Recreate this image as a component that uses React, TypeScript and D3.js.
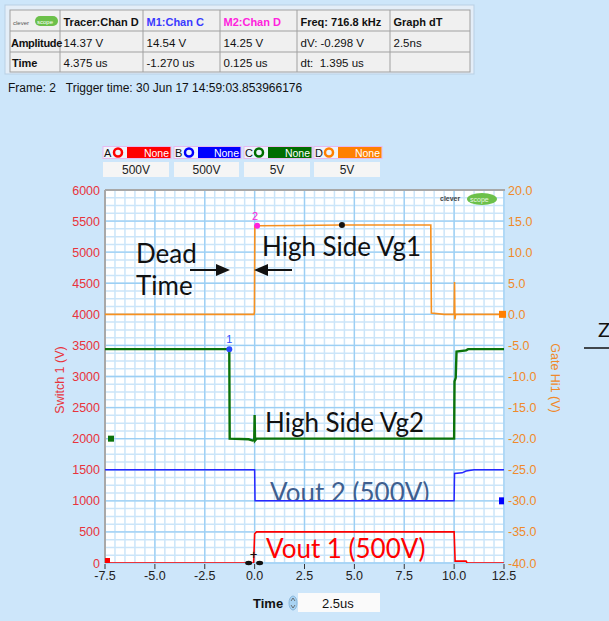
import React from "react";
import * as d3 from "d3";

// ---------- data ----------
const xTicks = [-7.5, -5.0, -2.5, 0.0, 2.5, 5.0, 7.5, 10.0, 12.5];
const leftTicks = [0, 500, 1000, 1500, 2000, 2500, 3000, 3500, 4000, 4500, 5000, 5500, 6000];
const rightTicks = [-40, -35, -30, -25, -20, -15, -10, -5, 0, 5, 10, 15, 20];

// Channel D (orange, right axis, V) : [time us, volts]
const chanD: [number, number][] = [
  [-7.5, 0], [-0.03, 0], [-0.01, 0.4], [0.01, 14.2], [0.125, 14.25], [2.0, 14.3], [4.375, 14.37],
  [8.83, 14.37], [8.86, 0.2], [9.5, 0], [10.0, 0], [10.02, 5.2], [10.04, -0.8], [10.07, 0], [12.5, 0],
];
// Channel C (green, right axis, V)
const chanC: [number, number][] = [
  [-7.5, -5.6], [-1.27, -5.6], [-1.25, -20.0], [-0.3, -20.1], [-0.1, -20.3], [-0.02, -20.2],
  [0.0, -16.2], [0.02, -20.3], [0.1, -20.0], [10.0, -20.0], [10.02, -10.8], [10.08, -10.2],
  [10.12, -6.0], [10.6, -5.8], [10.7, -5.6], [12.5, -5.6],
];
// Channel B (blue, left axis, V)
const chanB: [number, number][] = [
  [-7.5, 1500], [0.0, 1500], [0.02, 1000], [10.0, 1000], [10.02, 1440], [10.4, 1450],
  [10.6, 1480], [11.0, 1500], [12.5, 1500],
];
// Channel A (red, left axis, V)
const chanA: [number, number][] = [
  [-7.5, 0], [-0.05, 0], [0.0, 470], [0.1, 500], [10.0, 500], [10.05, 30], [10.6, 30], [10.65, 0], [12.5, 0],
];

const tableHeader = ["Tracer:Chan D", "M1:Chan C", "M2:Chan D", "Freq: 716.8 kHz", "Graph dT"];
const tableAmplitude = ["14.37 V", "14.54 V", "14.25 V", "dV: -0.298 V", "2.5ns"];
const tableTime = ["4.375 us", "-1.270 us", "0.125 us", "dt:  1.395 us", ""];
const legendNames = ["A", "B", "C", "D"];
const legendScales = ["500V", "500V", "5V", "5V"];

// ---------- layout ----------
const W = 609, H = 621;
const PL = 105, PR = 504, PT = 190, PB = 563;
const FONT = "'Liberation Sans', Arial, sans-serif";
const ANN = "Lato, 'Open Sans', sans-serif";

const x = d3.scaleLinear().domain([-7.5, 12.5]).range([PL, PR]);
const yL = d3.scaleLinear().domain([0, 6000]).range([PB, PT]);
const yR = d3.scaleLinear().domain([-40, 20]).range([PB, PT]);

const lineR = d3.line<[number, number]>().x(d => x(d[0])).y(d => yR(d[1]));
const lineL = d3.line<[number, number]>().x(d => x(d[0])).y(d => yL(d[1]));

const colX = [10, 60, 143, 220, 297, 390, 470];
const rowY = [10, 31, 52, 72];

const legendColors = ["#ff0000", "#0000ff", "#006e00", "#ff8000"];

export default function App() {
  const minorV = d3.range(-7.5, 12.5001, 0.5);
  const majorV = d3.range(-7.5, 12.5001, 2.5);
  const minorH = d3.range(0, 6000.1, 125);
  const majorH = d3.range(0, 6000.1, 500);

  return (
    <svg width={W} height={H} style={{ position: "absolute", left: 0, top: 0, background: "#cde6fa" }}
      fontFamily={FONT}>
      <rect x={0} y={0} width={W} height={H} fill="#cde6fa" />
      <defs>
        <clipPath id="plotclip"><rect x={PL} y={PT} width={PR - PL} height={PB - PT} /></clipPath>
      </defs>

      {/* ---------- top table ---------- */}
      <rect x={5} y={5} width={469} height={69} fill="#e4eef8" stroke="#b9cfe4" />
      <rect x={10} y={10} width={460} height={62} fill="#f0f0f0" stroke="#a0a0a0" />
      {rowY.slice(1, 3).map(yy => <line key={yy} x1={10} x2={470} y1={yy} y2={yy} stroke="#a0a0a0" />)}
      {colX.slice(1, 6).map(xx => <line key={xx} x1={xx} x2={xx} y1={10} y2={72} stroke="#a0a0a0" />)}
      {/* logo */}
      <text x={13} y={24.5} fontSize={6} fill="#555">clever</text>
      <rect x={35} y={16} width={23} height={10} rx={5} fill="#6cc04a" />
      <text x={37} y={24} fontSize={6} fill="#fff">scope</text>
      {tableHeader.map((t, i) => (
        <text key={t} x={colX[i + 1] + 3.5} y={25.5} fontSize={11} fontWeight="bold"
          fill={i === 1 ? "#3a3aff" : i === 2 ? "#ff22dd" : "#111"}>{t}</text>
      ))}
      <text x={11} y={46.5} fontSize={11} fontWeight="bold" fill="#111" letterSpacing={-0.3}>Amplitude</text>
      {tableAmplitude.map((t, i) => <text key={i} x={colX[i + 1] + 3.5} y={46.5} fontSize={11.5} fill="#111">{t}</text>)}
      <text x={12} y={67} fontSize={11} fontWeight="bold" fill="#111">Time</text>
      {tableTime.map((t, i) => <text key={i} x={colX[i + 1] + 3.5} y={67} fontSize={11.5} fill="#111" style={{ whiteSpace: "pre" }}>{t}</text>)}

      <text x={8} y={92} fontSize={12} fill="#111" style={{ whiteSpace: "pre" }}>Frame: 2   Trigger time: 30 Jun 17 14:59:03.853966176</text>

      {/* ---------- legend ---------- */}
      {legendNames.map((n, i) => {
        const lx = [103, 174, 244, 314][i];
        const bw = [68, 67, 68, 68][i];
        const c = legendColors[i];
        return (
          <g key={n}>
            <rect x={lx} y={146.5} width={bw} height={12} fill="#eef4fb" stroke="#e8b8f0" />
            <text x={lx + 1} y={157} fontSize={11} fill="#111">{n}</text>
            <circle cx={lx + 15} cy={152.5} r={4} fill="none" stroke={c} strokeWidth={2.5} />
            <rect x={lx + 24} y={147} width={bw - 24.5} height={11} fill={c} />
            <text x={lx + bw - 2} y={156.5} fontSize={10.5} fill="#fff" textAnchor="end">None</text>
            <rect x={lx} y={162} width={bw - 2} height={15} fill="#f5f5f5" />
            <text x={lx + (bw - 2) / 2} y={174} fontSize={12} fill="#222" textAnchor="middle">{legendScales[i]}</text>
          </g>
        );
      })}

      {/* ---------- plot area ---------- */}
      <rect x={PL} y={PT} width={PR - PL + 1} height={PB - PT} fill="#ffffff" />
      {minorH.map(v => <line key={"mh" + v} x1={PL} x2={PR} y1={yL(v)} y2={yL(v)} stroke="#cbe5f9" strokeWidth={1.5} />)}
      {minorV.map(v => <line key={"mv" + v} x1={x(v)} x2={x(v)} y1={PT} y2={PB} stroke="#cbe5f9" strokeWidth={1.5} />)}
      {majorH.map(v => <line key={"Mh" + v} x1={PL} x2={PR} y1={yL(v)} y2={yL(v)} stroke="#9ccff4" strokeWidth={1.3} />)}
      {majorV.map(v => <line key={"Mv" + v} x1={x(v)} x2={x(v)} y1={PT} y2={PB} stroke="#9ccff4" strokeWidth={1.3} />)}
      <line x1={PL} x2={PR + 1} y1={PT} y2={PT} stroke="#a8a8a8" strokeWidth={2} />
      <line x1={PL} x2={PL} y1={PT} y2={PB} stroke="#a8a8a8" strokeWidth={2} />

      {/* logo in plot */}
      <text x={440} y={201} fontSize={7} fill="#444" fontWeight="bold">clever</text>
      <ellipse cx={482} cy={199} rx={15} ry={6} fill="#6cc04a" />
      <text x={470} y={201.5} fontSize={7} fill="#e9f6e2">scope</text>

      {/* traces */}
      <g clipPath="url(#plotclip)" fill="none" strokeLinejoin="miter">
        <path d={lineR(chanD) || ""} stroke="#f7901e" strokeWidth={1.6} />
        <path d={lineR(chanC) || ""} stroke="#0b730b" strokeWidth={2.4} />
        <path d={lineL(chanB) || ""} stroke="#2727ff" strokeWidth={1.5} />
        <path d={lineL(chanA) || ""} stroke="#ff0000" strokeWidth={1.6} />
      </g>

      {/* channel end markers */}
      <rect x={x(12.5) - 5} y={yR(0) - 3.5} width={7} height={7} fill="#ff8000" />
      <rect x={x(-7.2) - 3} y={yR(-20) - 3} width={6} height={6} fill="#0b730b" />
      <rect x={x(12.5) - 5} y={yL(1000) - 3.5} width={5} height={7} fill="#0000ff" />
      <rect x={x(-7.5)} y={yL(0) - 5} width={5} height={5} fill="#ff0000" />

      {/* cursors */}
      <circle cx={x(4.375)} cy={yR(14.37)} r={3} fill="#111" />
      <circle cx={x(0.125)} cy={yR(14.25)} r={3} fill="#ff22dd" />
      <text x={x(0.125) - 2} y={yR(14.25) - 6} fontSize={11} fill="#ff22dd" textAnchor="middle">2</text>
      <circle cx={x(-1.27)} cy={yR(-5.6)} r={3} fill="#2a4aff" />
      <text x={x(-1.27)} y={yR(-5.6) - 6} fontSize={11} fill="#2a4aff" textAnchor="middle">1</text>
      <ellipse cx={x(-0.3)} cy={PB} rx={3.5} ry={2.2} fill="#111" />
      <ellipse cx={x(0.25)} cy={PB} rx={3.5} ry={2.2} fill="#111" />
      <text x={x(-0.05)} y={yL(70)} fontSize={13} fill="#111" textAnchor="middle">+</text>

      {/* annotations */}
      <defs>
        <clipPath id="clipTime"><rect x={130} y={270} width={80} height={27} /></clipPath>
        <clipPath id="clipV2"><rect x={260} y={475} width={190} height={25} /></clipPath>
        <clipPath id="clipV1"><rect x={260} y={530} width={190} height={33} /></clipPath>
      </defs>
      <text x={136} y={263} fontSize={26} fontFamily={ANN} fill="#111">Dead</text>
      <g clipPath="url(#clipTime)">
        <text x={136} y={295} fontSize={26} fontFamily={ANN} fill="#111">Time</text>
      </g>
      <line x1={190} x2={218} y1={270} y2={270} stroke="#111" strokeWidth={2} />
      <path d="M230,270 L216,264 L216,276 Z" fill="#111" />
      <line x1={292} x2={266} y1={270} y2={270} stroke="#111" strokeWidth={2} />
      <path d="M254,270 L268,264 L268,276 Z" fill="#111" />
      <text x={262} y={256} fontSize={26} fontFamily={ANN} fill="#111">High Side Vg1</text>
      <text x={265} y={432} fontSize={26} fontFamily={ANN} fill="#111">High Side Vg2</text>
      <g clipPath="url(#clipV2)">
        <text x={270} y={502} fontSize={26} fontFamily={ANN} fill="#3f5f8f">Vout 2 (500V)</text>
      </g>
      <g clipPath="url(#clipV1)">
        <text x={266} y={558} fontSize={26} fontFamily={ANN} fill="#ff0000">Vout 1 (500V)</text>
      </g>

      {/* axes */}
      {leftTicks.map(v => (
        <text key={"l" + v} x={100} y={yL(v) + 4.5} fontSize={12.5} fill="#e8343c" textAnchor="end">{v}</text>
      ))}
      {rightTicks.map(v => (
        <text key={"r" + v} x={508} y={yR(v) + 4.5} fontSize={12.5} fill="#f08a2a">{v.toFixed(1)}</text>
      ))}
      {xTicks.map(v => (
        <g key={"x" + v}>
          <line x1={x(v)} x2={x(v)} y1={PB + 1} y2={PB + 6} stroke="#333" strokeWidth={1} />
          <text x={x(v)} y={580} fontSize={12.5} fill="#222" textAnchor="middle">{v.toFixed(1)}</text>
        </g>
      ))}
      <text transform={`translate(64,380) rotate(-90)`} fontSize={12.5} fill="#e8343c" textAnchor="middle">Switch 1 (V)</text>
      <text transform={`translate(551,378) rotate(90)`} fontSize={12.5} fill="#f08a2a" textAnchor="middle">Gate Hi1 (V)</text>

      {/* time control */}
      <text x={253} y={608} fontSize={13} fontWeight="bold" fill="#111">Time</text>
      <ellipse cx={293} cy={603} rx={4} ry={7} fill="#a9d3f2" stroke="#8ab8dc" />
      <path d="M291,601 L293,598 L295,601" fill="none" stroke="#555" strokeWidth={0.8} />
      <path d="M291,605 L293,608 L295,605" fill="none" stroke="#555" strokeWidth={0.8} />
      <rect x={298} y={593} width={82} height={19} fill="#fafafa" />
      <text x={322} y={608} fontSize={13} fill="#111">2.5us</text>

      {/* cropped text at right edge */}
      <text x={598} y={337} fontSize={20} fontFamily={ANN} fill="#111">Z</text>
      <line x1={584} x2={609} y1={348} y2={348} stroke="#111" strokeWidth={1.5} />
    </svg>
  );
}
